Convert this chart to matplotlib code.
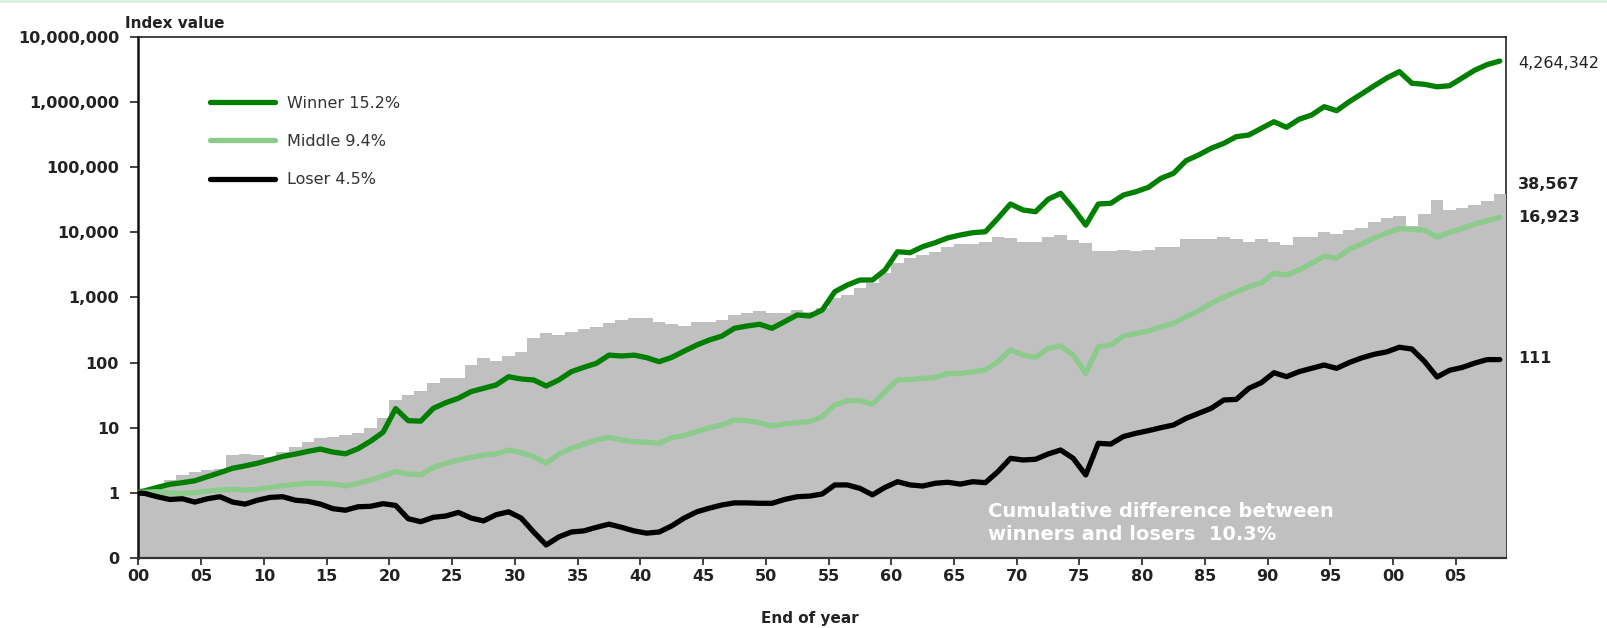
'''
Winners vs losers: cumulative index values, 1900-2008 (log scale)
'''

import numpy as np
import matplotlib
matplotlib.use('Agg')
import matplotlib.pyplot as plt
from matplotlib.lines import Line2D

# end-of-year index values, 1899 = 1
years = np.arange(1899, 2009)

winner = [1.0, 1.07, 1.21, 1.35, 1.43, 1.53, 1.77, 2.04, 2.38, 2.59,
          2.85, 3.21, 3.62, 3.93, 4.32, 4.69, 4.22, 3.97, 4.75, 6.2,
          8.5, 19.6, 12.8, 12.6, 19.8, 24.2, 28.3, 35.7, 40.2, 45.2,
          60.6, 55.9, 54, 43.6, 54, 72.4, 84.5, 97.3, 130, 126,
          130, 119, 103, 120, 150, 186, 222, 255, 336, 364,
          387, 336, 424, 537, 519, 641, 1224, 1550, 1850, 1850,
          2630, 5030, 4860, 6010, 6920, 8200, 9090, 9860, 10200, 16400,
          27200, 22000, 20700, 32100, 39700, 23400, 12900, 27200, 27900, 37300,
          42000, 49100, 67400, 80500, 126000, 154000, 195000, 232000, 294000, 312000,
          395000, 499000, 409000, 543000, 632000, 849000, 737000, 1012000, 1337000, 1781000,
          2343000, 2931000, 1942000, 1872000, 1715000, 1781000, 2343000, 3083000, 3760000, 4264342]

middle = [1.0, 1.02, 1.04, 1.0, 0.98, 1.0, 1.06, 1.10, 1.13, 1.10,
          1.13, 1.21, 1.28, 1.35, 1.40, 1.40, 1.36, 1.27, 1.40, 1.57,
          1.81, 2.12, 1.95, 1.88, 2.46, 2.84, 3.19, 3.5, 3.8, 3.94,
          4.54, 4.13, 3.59, 2.84, 3.94, 4.82, 5.6, 6.47, 7.1, 6.47,
          6.1, 5.96, 5.75, 7.0, 7.6, 8.7, 10, 11, 13.1, 12.8,
          11.9, 10.6, 11.4, 11.9, 12.4, 14.8, 22.3, 26, 26, 23,
          35.7, 54, 55, 57, 59, 68, 68, 72, 77, 103,
          156, 131, 120, 165, 180, 131, 68, 175, 186, 255,
          280, 305, 355, 400, 506, 625, 811, 1000, 1220, 1460,
          1680, 2340, 2210, 2640, 3340, 4320, 3980, 5480, 6570, 8130,
          9800, 11400, 11100, 10800, 8430, 10000, 11400, 13400, 15100, 16923]

loser = [1.0, 0.98, 0.87, 0.79, 0.81, 0.72, 0.81, 0.87, 0.72, 0.67,
         0.77, 0.85, 0.87, 0.77, 0.74, 0.67, 0.57, 0.54, 0.61, 0.62,
         0.68, 0.64, 0.40, 0.36, 0.42, 0.44, 0.50, 0.41, 0.37, 0.46,
         0.51, 0.41, 0.25, 0.158, 0.21, 0.25, 0.26, 0.295, 0.33, 0.295,
         0.26, 0.24, 0.25, 0.31, 0.41, 0.51, 0.58, 0.65, 0.70, 0.70,
         0.69, 0.69, 0.79, 0.87, 0.89, 0.96, 1.32, 1.32, 1.17, 0.93,
         1.21, 1.48, 1.32, 1.27, 1.40, 1.45, 1.36, 1.48, 1.43, 2.11,
         3.38, 3.19, 3.27, 3.94, 4.54, 3.38, 1.88, 5.75, 5.6, 7.3,
         8.2, 9.0, 10.0, 11.0, 13.9, 16.6, 19.8, 26.6, 27.2, 40.2,
         49.1, 69.8, 60.7, 72.4, 81.5, 91.6, 81.5, 100, 118, 134,
         146, 172, 161, 104, 60, 76, 84, 98, 111, 111]

# winners / losers spread (grey area)
gap = [1.0, 1.1, 1.24, 1.57, 1.88, 2.11, 2.2, 2.3, 3.8, 4.0,
       3.8, 3.6, 4.3, 5.1, 6.1, 6.9, 7.1, 7.7, 8.2, 9.8,
       13.9, 26.6, 31.6, 36.6, 48, 57, 57, 92, 116, 106,
       126, 147, 236, 287, 265, 298, 324, 348, 409, 450,
       489, 478, 424, 387, 360, 425, 425, 450, 540, 580,
       620, 570, 570, 640, 600, 680, 970, 1090, 1380, 1640,
       2330, 3350, 3960, 4450, 5000, 6000, 6600, 6600, 7200, 8600,
       8100, 7200, 7200, 8600, 9100, 7600, 6900, 5200, 5200, 5400,
       5200, 5400, 6000, 5900, 8000, 8000, 8000, 8500, 8000, 7200,
       8000, 7200, 6300, 8500, 8500, 10200, 9500, 11000, 11800, 14200,
       16500, 17800, 12600, 19400, 30800, 22000, 24000, 26500, 30000, 38567]

ytick_vals = 10.0**np.arange(-1, 8)
ytick_labels = ['0', '1', '10', '100', '1,000', '10,000', '100,000',
                '1,000,000', '10,000,000']
xtick_vals = np.arange(1900, 2006, 5)
xtick_labels = ['%02d' % (y % 100) for y in xtick_vals]

c_win = '#007f00'
c_mid = '#8ccb8c'
c_los = '#000000'
c_gap = '#c0c0c0'

#%%
fig = plt.figure(figsize=(16.08, 6.28), dpi=100)
ax = fig.add_axes([0.0861, 0.1116, 0.8505, 0.8296])
ax.set_yscale('log')

ax.stairs(gap, edges=np.append(years, years[-1]+1), baseline=0.1,
          fill=True, color=c_gap, lw=0, zorder=1)

x = years + 0.5
kw = dict(lw=3.8, solid_capstyle='round', solid_joinstyle='round', zorder=3)
ax.plot(x, winner, color=c_win, label='Winner 15.2%', **kw)
ax.plot(x, middle, color=c_mid, label='Middle 9.4%', **kw)
ax.plot(x, loser, color=c_los, label='Loser 4.5%', **kw)

ax.set_xlim(1900, 2009)
ax.set_ylim(0.1, 1e7)
ax.yaxis.set_minor_locator(plt.NullLocator())
ax.set_yticks(ytick_vals)
ax.set_yticklabels(ytick_labels, fontsize=11.5, fontweight='bold', color='#222222')
ax.yaxis.set_minor_locator(plt.NullLocator())
ax.set_xticks(xtick_vals)
ax.set_xticklabels(xtick_labels, fontsize=11.5, fontweight='bold', color='#222222')
ax.tick_params(axis='y', direction='out', length=6, width=1.2, pad=8, colors='#222222')
ax.tick_params(axis='x', direction='out', length=5, width=1.2, pad=3, colors='#222222')

for s in ['top', 'right']:
    ax.spines[s].set_color('#222222')
    ax.spines[s].set_linewidth(1.2)
ax.spines['left'].set_color('#111111')
ax.spines['left'].set_linewidth(1.8)
ax.spines['bottom'].set_color('#333333')
ax.spines['bottom'].set_linewidth(1.6)
ax.spines['right'].set_zorder(0.5)

leg = ax.legend(loc='upper left', bbox_to_anchor=(0.052, 0.887), frameon=False,
                fontsize=11.5, handlelength=4.1, handletextpad=0.75,
                labelspacing=1.45, borderpad=0, borderaxespad=0)
for t in leg.get_texts():
    t.set_color('#333333')

# end values at the right edge
ends = [(winner[-1], '4,264,342', 'normal', -2),
        (gap[-1], '38,567', 'bold', 10),
        (middle[-1], '16,923', 'bold', 0),
        (loser[-1], '111', 'bold', 1)]
for v, s, w, dy in ends:
    ax.annotate(s, xy=(1, v), xycoords=('axes fraction', 'data'),
                xytext=(12, dy), textcoords='offset pixels',
                ha='left', va='center', fontsize=11.5, fontweight=w,
                color='#222222', annotation_clip=False)

ax.text(0.621, 0.067, 'Cumulative difference between\nwinners and losers  10.3%',
        transform=ax.transAxes, ha='left', va='center', color='white',
        fontsize=14, fontweight='bold', linespacing=1.3, zorder=4)

fig.text(125/1608, 1-23/628, 'Index value', ha='left', va='center',
         fontsize=11, fontweight='bold', color='#222222')
fig.text(810/1608, 1-619/628, 'End of year', ha='center', va='center',
         fontsize=11, fontweight='bold', color='#222222')
fig.add_artist(Line2D([0, 1], [0.998, 0.998], color='#dcefe3', lw=2))

fig.savefig('out.png', dpi=100)
